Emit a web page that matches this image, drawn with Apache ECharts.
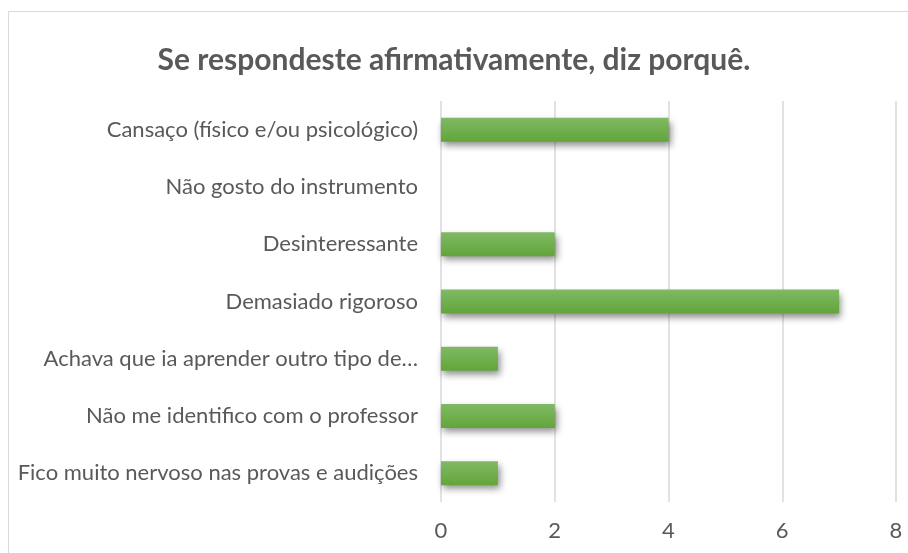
<!DOCTYPE html>
<html>
<head>
<meta charset="utf-8">
<script src="https://cdn.jsdelivr.net/npm/echarts@6/dist/echarts.min.js"></script>
<style>
  html, body { margin: 0; padding: 0; background: #fff; }
  #frame {
    position: absolute; left: 8px; top: 11px; width: 940px; height: 600px;
    border: 1.5px solid #d9d9d9; box-sizing: border-box;
  }
  #chart { position: absolute; left: 0; top: 0; width: 908px; height: 553px; }
</style>
</head>
<body>
<div id="frame"></div>
<div id="chart"></div>
<script>
// categories from top to bottom
const categories = [
  'Cansaço (físico e/ou psicológico)',
  'Não gosto do instrumento',
  'Desinteressante',
  'Demasiado rigoroso',
  'Achava que ia aprender outro tipo de…',
  'Não me identifico com o professor',
  'Fico muito nervoso nas provas e audições'
];
const values = [4, 0, 2, 7, 1, 2, 1];
const xTicks = [0, 2, 4, 6, 8];

const chart = echarts.init(document.getElementById('chart'));

chart.setOption({
  backgroundColor: 'transparent',
  animation: false,
  title: {
    text: 'Se respondeste afirmativamente, diz porquê.',
    left: 'center',
    top: 40,
    textStyle: { fontFamily: 'Lato', fontSize: 30, fontWeight: 'bold', color: '#595959' }
  },
  grid: { left: 441, right: 12, top: 101, bottom: 51, containLabel: false },
  xAxis: {
    type: 'value',
    min: xTicks[0],
    max: xTicks[xTicks.length - 1],
    interval: 2,
    axisLine: { show: false },
    axisTick: { show: false },
    axisLabel: { color: '#595959', fontSize: 22, fontFamily: 'Lato', margin: 18 },
    splitLine: { lineStyle: { color: '#d9d9d9', width: 1.5 } }
  },
  yAxis: {
    type: 'category',
    inverse: true,
    data: categories,
    axisLine: { show: false },
    axisTick: { show: false },
    axisLabel: { color: '#595959', fontSize: 22, fontFamily: 'Lato', margin: 23 }
  },
  series: [{
    type: 'bar',
    data: values,
    barWidth: 24,
    itemStyle: {
      color: new echarts.graphic.LinearGradient(0, 0, 0, 1, [
        { offset: 0, color: '#80b964' },
        { offset: 1, color: '#62a53a' }
      ]),
      shadowColor: 'rgba(0,0,0,0.45)',
      shadowBlur: 7,
      shadowOffsetX: 2,
      shadowOffsetY: 4
    }
  }]
});
</script>
</body>
</html>
